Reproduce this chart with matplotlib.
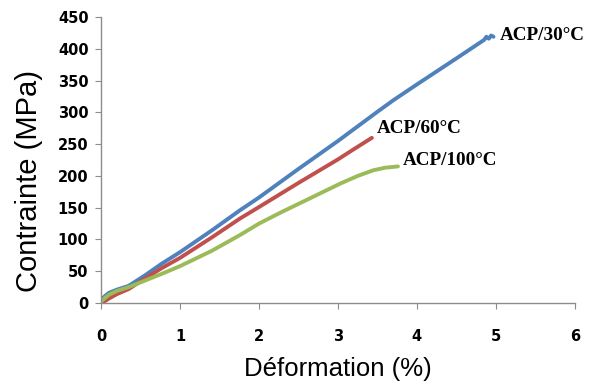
import matplotlib
matplotlib.use("Agg")
from matplotlib import pyplot as plt

# Courbes contrainte-déformation (traction) pour trois températures
def_30 = [0.0, 0.05, 0.1, 0.2, 0.35, 0.55, 0.77, 1.0, 1.4, 1.76, 2.0, 2.5, 3.0, 3.5, 3.7, 4.0, 4.5, 4.85, 4.88, 4.91, 4.94, 4.97]
sig_30 = [5, 11, 16, 21, 27, 43, 62, 80, 114, 146, 166, 211, 255, 301, 319, 344, 385, 414, 419, 416, 421, 419]

def_60 = [0.0, 0.05, 0.1, 0.2, 0.35, 0.55, 0.77, 1.0, 1.4, 1.76, 2.0, 2.5, 3.0, 3.2, 3.43]
sig_60 = [0, 3, 7, 14, 22, 38, 55, 71, 103, 133, 151, 189, 226, 242, 260]

def_100 = [0.0, 0.05, 0.1, 0.2, 0.35, 0.55, 0.77, 1.0, 1.4, 1.76, 2.0, 2.3, 2.6, 3.03, 3.25, 3.45, 3.6, 3.76]
sig_100 = [2, 8, 13, 19, 25, 35, 46, 58, 82, 107, 125, 144, 162, 188, 200, 209, 213, 215]

noms = ["ACP/30°C", "ACP/60°C", "ACP/100°C"]
couleurs = ["#4F81BD", "#C0504D", "#9BBB59"]
pos_noms = [(5.05, 421), (3.49, 274), (3.82, 224)]

x_ticks = [0, 1, 2, 3, 4, 5, 6]
y_ticks = list(range(0, 451, 50))

fig = plt.figure(figsize=(5.89, 3.88), dpi=100)
ax = fig.add_axes([0.1715, 0.219, 0.8045, 0.737])

for x, y, c in zip([def_30, def_60, def_100], [sig_30, sig_60, sig_100], couleurs):
    ax.plot(x, y, color=c, lw=2.8, solid_capstyle="round")

for nom, (px, py) in zip(noms, pos_noms):
    ax.text(px, py, nom, fontsize=13.8, fontweight="bold", family="Liberation Serif",
            va="center", ha="left")

ax.set_xlim(0, 6)
ax.set_ylim(0, 450)
ax.set_xticks(x_ticks)
ax.set_yticks(y_ticks)

for s in ["top", "right"]:
    ax.spines[s].set_visible(False)
for s in ["left", "bottom"]:
    ax.spines[s].set_color("#8c8c8c")
    ax.spines[s].set_linewidth(1.0)

ax.tick_params(axis="x", length=4, color="#8c8c8c", pad=15)
ax.tick_params(axis="y", length=4, color="#8c8c8c", pad=5)
for lab in ax.get_xticklabels() + ax.get_yticklabels():
    lab.set_fontweight("bold")
    lab.set_fontsize(10.5)
    lab.set_family("DejaVu Sans")

ax.set_xlabel("Déformation (%)", fontsize=18.5, family="Liberation Sans", labelpad=9)
ax.set_ylabel("Contrainte (MPa)", fontsize=21, family="Liberation Sans",
              va="center", ha="center")
ax.yaxis.set_label_coords(-0.152, 0.425)

fig.savefig("out.png", dpi=100)
